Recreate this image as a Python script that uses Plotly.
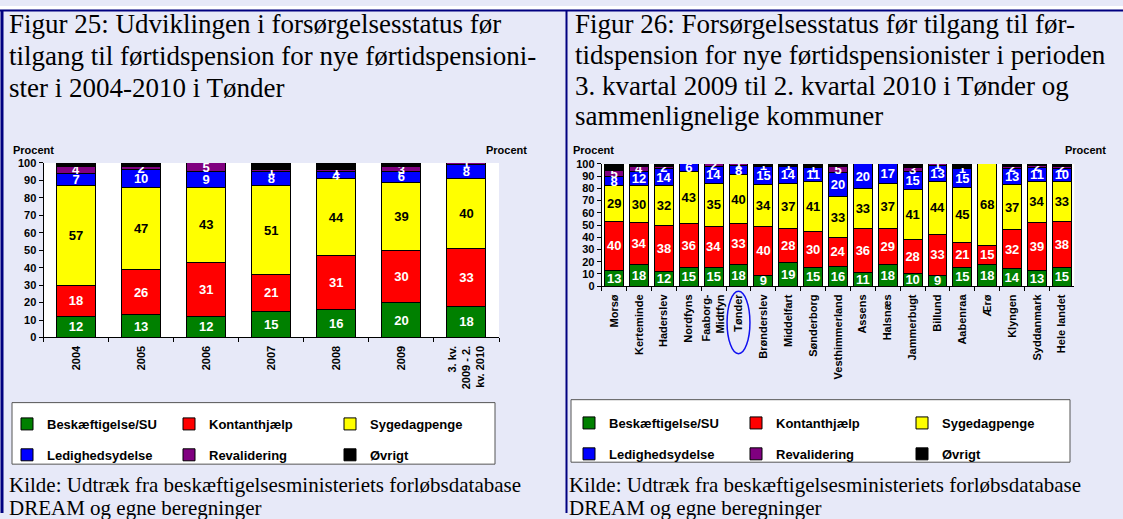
import plotly.graph_objects as go

# Figur 25 - Tønder 2004-2010
kategorier_25 = ["2004", "2005", "2006", "2007", "2008", "2009", "3. kv.<br>2009 - 2.<br>kv. 2010"]
besk_25 = [12, 13, 12, 15, 16, 20, 18]
kont_25 = [18, 26, 31, 21, 31, 30, 33]
syge_25 = [57, 47, 43, 51, 44, 39, 40]
ledig_25 = [7, 10, 9, 8, 4, 6, 8]
reval_25 = [4, 2, 5, 1, 1, 3, 1]
oevrigt_25 = [2, 2, 0, 4, 4, 2, 0]

# Figur 26 - kommuner, 3. kv. 2009 til 2. kv. 2010
kategorier_26 = ["Morsø", "Kerteminde", "Haderslev", "Nordfyns", "Faaborg-<br>Midtfyn", "Tønder",
                 "Brønderslev", "Middelfart", "Sønderborg", "Vesthimmerland", "Assens", "Halsnæs",
                 "Jammerbugt", "Billund", "Aabenraa", "Ærø", "Klyngen", "Syddanmark", "Hele landet"]
besk_26 = [13, 18, 12, 15, 15, 18, 9, 19, 15, 16, 11, 18, 10, 9, 15, 18, 14, 13, 15]
kont_26 = [40, 34, 38, 36, 34, 33, 40, 28, 30, 24, 36, 29, 28, 33, 21, 15, 32, 39, 38]
syge_26 = [29, 30, 32, 43, 35, 40, 34, 37, 41, 33, 33, 37, 41, 44, 45, 68, 37, 34, 33]
ledig_26 = [8, 12, 14, 6, 14, 8, 15, 14, 11, 20, 20, 17, 15, 13, 15, 0, 13, 11, 10]
reval_26 = [5, 4, 2, 0, 2, 1, 1, 1, 1, 5, 0, 0, 3, 1, 1, 0, 2, 2, 2]
oevrigt_26 = [5, 2, 2, 0, 0, 0, 1, 1, 2, 2, 0, 0, 3, 0, 3, 0, 2, 1, 2]

serienavne = ["Beskæftigelse/SU", "Kontanthjælp", "Sygedagpenge", "Ledighedsydelse", "Revalidering", "Øvrigt"]
farver = ["#008000", "#FF0000", "#FFFF00", "#0000FF", "#800080", "#000000"]
tekstfarver = ["white", "white", "black", "white", "white", None]

titel_25 = ["Figur 25: Udviklingen i forsørgelsesstatus før",
            "tilgang til førtidspension for nye førtidspensioni-",
            "ster i 2004-2010 i Tønder"]
titel_26 = ["Figur 26: Forsørgelsesstatus før tilgang til før-",
            "tidspension for nye førtidspensionister i perioden",
            "3. kvartal 2009 til 2. kvartal 2010 i Tønder og",
            "sammenlignelige kommuner"]
kilde = ["Kilde: Udtræk fra beskæftigelsesministeriets forløbsdatabase",
         "DREAM og egne beregninger"]

W, H = 1123, 519
SANS = "Arial, Liberation Sans, sans-serif"
SERIF = "Times New Roman, Liberation Serif, serif"
BG = "#E7E9F8"
NAVY = "#000080"


def fx(p):
    return p / W


def fy(p):
    return 1 - p / H


fig = go.Figure()

diagrammer = [
    dict(kat=kategorier_25, data=[besk_25, kont_25, syge_25, ledig_25, reval_25, oevrigt_25],
         xa="x", ya="y", bredde=0.6, legender=["legend", "legend2", "legend3"], navn="f25"),
    dict(kat=kategorier_26, data=[besk_26, kont_26, syge_26, ledig_26, reval_26, oevrigt_26],
         xa="x2", ya="y3", bredde=0.76, legender=["legend4", "legend5", "legend6"], navn="f26"),
]

for d in diagrammer:
    for i, navn in enumerate(serienavne):
        vals = d["data"][i]
        tekst = [str(v) if (v and tekstfarver[i]) else "" for v in vals]
        fig.add_trace(go.Bar(
            x=d["kat"], y=vals, name=navn, xaxis=d["xa"], yaxis=d["ya"], width=d["bredde"],
            marker=dict(color=farver[i], line=dict(color="black", width=1)),
            text=tekst, textposition="inside", insidetextanchor="middle",
            constraintext="none", textangle=0,
            insidetextfont=dict(family=SANS, size=13, color=tekstfarver[i] or "white", weight="bold"),
            legend=d["legender"][i % 3], legendgroup=d["navn"] + navn,
            hoverinfo="x+y+name",
        ))

akse = dict(showline=True, linecolor="black", linewidth=1, ticks="outside", ticklen=4,
            tickcolor="black", showgrid=False, zeroline=False,
            tickfont=dict(family=SANS, size=11, color="black", weight="bold"))
yakse = dict(range=[0, 100], dtick=10, fixedrange=True, **akse)
xakse = dict(type="category", tickson="boundaries", tickangle=-90, ticklabelstandoff=3, **akse)

fig.update_layout(
    width=W, height=H, margin=dict(l=0, r=0, t=0, b=0),
    paper_bgcolor=BG, plot_bgcolor="white", barmode="stack", showlegend=True,
    xaxis=dict(domain=[fx(43.5), fx(499)], anchor="y", **xakse),
    yaxis=dict(domain=[fy(339.3), fy(160.7)], anchor="x", **yakse),
    yaxis2=dict(overlaying="y", side="right", anchor="x", **yakse),
    xaxis2=dict(domain=[fx(601.7), fx(1074.3)], anchor="y3", **xakse),
    yaxis3=dict(domain=[fy(286.7), fy(161.7)], anchor="x2", **yakse),
    yaxis4=dict(overlaying="y3", side="right", anchor="x2", **yakse),
)

# legender: tre kolonner pr. diagram
leg_font = dict(family=SANS, size=13, color="black", weight="bold")
kolonner = {"legend": (35, 427), "legend2": (197, 427), "legend3": (358, 427),
            "legend4": (597, 426), "legend5": (764, 426), "legend6": (930, 426)}
for key, (cx, cy) in kolonner.items():
    fig.update_layout({key: dict(x=fx(cx - 28), y=fy(cy - 14.5), xanchor="left", yanchor="top",
                                 orientation="v", traceorder="grouped", tracegroupgap=11,
                                 bgcolor="rgba(0,0,0,0)", borderwidth=0, font=leg_font)})

shapes = [
    dict(type="rect", xref="paper", yref="paper", x0=0, x1=1, y0=fy(3.5), y1=1,
         fillcolor="white", line_width=0, layer="below"),
    dict(type="rect", xref="paper", yref="paper", x0=fx(12), x1=fx(495), y0=fy(469), y1=fy(406),
         fillcolor="white", line=dict(color="#555555", width=1), layer="below"),
    dict(type="rect", xref="paper", yref="paper", x0=fx(571), x1=fx(1070), y0=fy(467), y1=fy(403),
         fillcolor="white", line=dict(color="#555555", width=1), layer="below"),
    dict(type="line", xref="paper", yref="paper", x0=0, x1=1, y0=fy(4.5), y1=fy(4.5),
         line=dict(color=NAVY, width=2)),
    dict(type="line", xref="paper", yref="paper", x0=fx(2), x1=fx(2), y0=0, y1=fy(4),
         line=dict(color=NAVY, width=3)),
    dict(type="line", xref="paper", yref="paper", x0=fx(566.5), x1=fx(566.5), y0=0, y1=fy(4),
         line=dict(color=NAVY, width=2)),
    dict(type="circle", xref="x2", yref="paper", x0="Tønder", x1="Tønder", x0shift=-0.46, x1shift=0.46,
         y0=fy(356), y1=fy(292), line=dict(color="#1010F0", width=1.5)),
]
fig.update_layout(shapes=shapes)

ann = []
for linje, cy in zip(titel_25, [18.5, 51.5, 83.5]):
    ann.append(dict(text=linje, x=fx(7), y=fy(cy), font=dict(family=SERIF, size=27, color="black")))
for linje, cy in zip(titel_26, [18.5, 50, 81.5, 113]):
    ann.append(dict(text=linje, x=fx(573), y=fy(cy), font=dict(family=SERIF, size=27, color="black")))
for x0 in (7, 567):
    for linje, cy in zip(kilde, [490, 514]):
        ann.append(dict(text=linje, x=fx(x0), y=fy(cy), font=dict(family=SERIF, size=21, color="black")))
for a in ann:
    a.update(xanchor="left", yanchor="middle")

ann += [
    dict(text="Procent", x=fx(11), y=fy(147), xanchor="left", yanchor="middle"),
    dict(text="Procent", x=fx(529), y=fy(147), xanchor="right", yanchor="middle"),
    dict(text="Procent", x=fx(571), y=fy(147), xanchor="left", yanchor="middle"),
    dict(text="Procent", x=fx(1108), y=fy(147), xanchor="right", yanchor="middle"),
]
for a in ann:
    a.setdefault("font", dict(family=SANS, size=11, color="black", weight="bold"))
    a.update(xref="paper", yref="paper", showarrow=False)
fig.update_layout(annotations=ann)

fig.write_html("out.html", config={"displayModeBar": False},
               post_script="document.body.style.margin='0';")
